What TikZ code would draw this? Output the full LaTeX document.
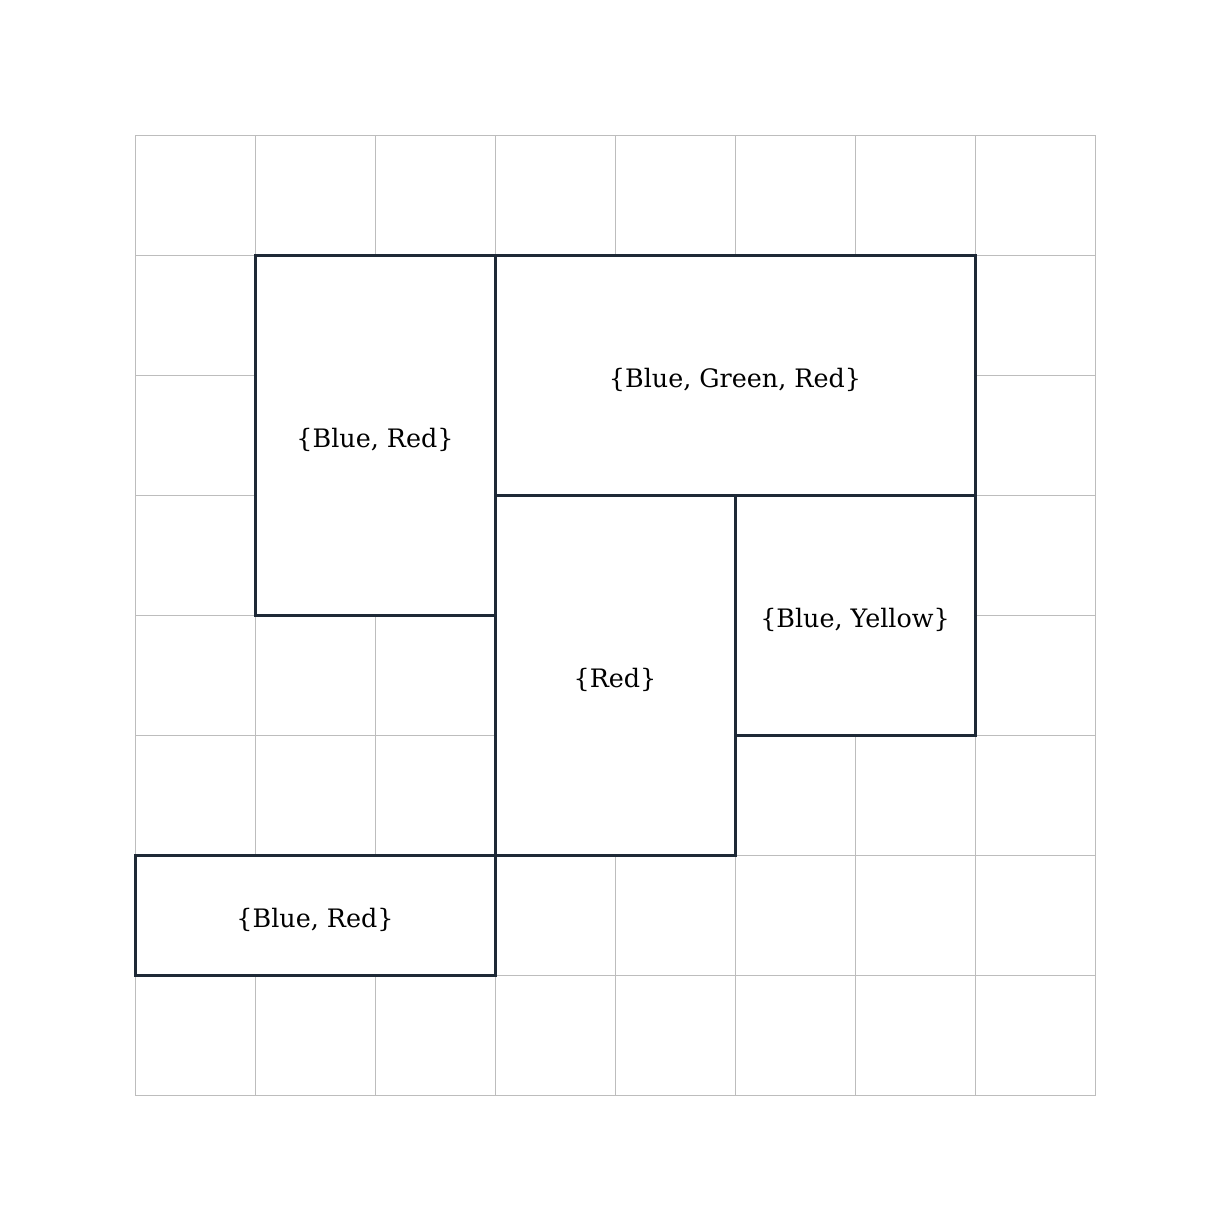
\documentclass[tikz,border=0pt]{standalone}
\usepackage{fontspec}
\setmainfont{DejaVu Serif}
\definecolor{gridgray}{HTML}{BDBDBD}
\definecolor{boxnavy}{HTML}{1E2936}
\tikzset{
  cellgrid/.style={draw=gridgray, line width=0.5pt},
  region/.style={draw=boxnavy, line width=1.5pt, fill=white},
  lbl/.style={font=\fontsize{12.7}{15}\selectfont, text=black}
}
\begin{document}
\begin{tikzpicture}[x=0.5pt,y=-0.5pt]
\useasboundingbox (0,0) rectangle (1230,1230);
% grid
\foreach \i in {0,...,8} {
  \draw[cellgrid] ({135.5+120*\i},135.5) -- ({135.5+120*\i},1095.5);
  \draw[cellgrid] (135.5,{135.5+120*\i}) -- (1095.5,{135.5+120*\i});
}
% regions
\draw[region] (255.5,255.5) rectangle (495.5,615.5);
\node[lbl] (r1) at (375,440) {\{Blue, Red\}};
\draw[region] (495.5,255.5) rectangle (975.5,495.5);
\node[lbl] (r2) at (735,380) {\{Blue, Green, Red\}};
\draw[region] (495.5,495.5) rectangle (735.5,855.5);
\node[lbl] (r3) at (615,680) {\{Red\}};
\draw[region] (735.5,495.5) rectangle (975.5,735.5);
\node[lbl] (r4) at (855,620) {\{Blue, Yellow\}};
\draw[region] (135.5,855.5) rectangle (495.5,975.5);
\node[lbl] (r5) at (315,920) {\{Blue, Red\}};
\end{tikzpicture}
\end{document}
